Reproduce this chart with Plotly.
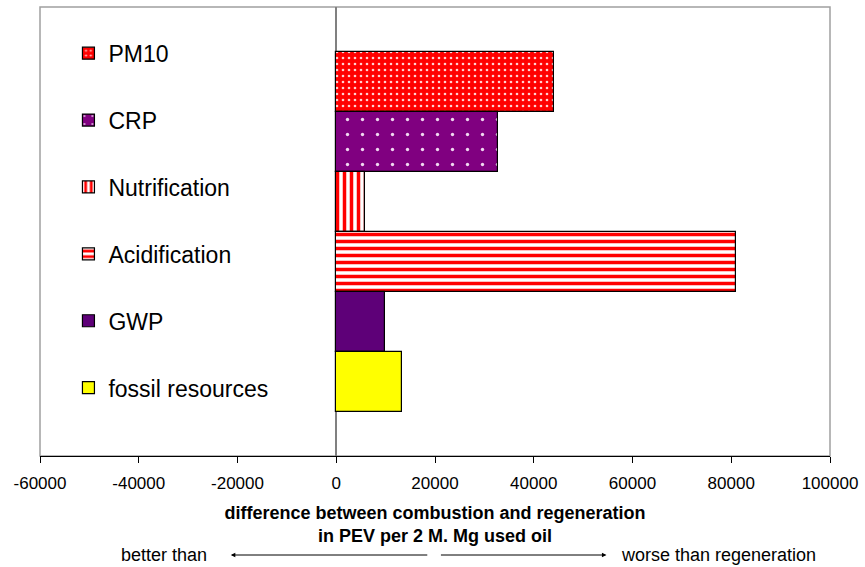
import plotly.graph_objects as go

# ---- data (top to bottom as shown) ----
categories = ["PM10", "CRP", "Nutrification", "Acidification", "GWP", "fossil resources"]
values = [44200, 32800, 5800, 80900, 9900, 13300]
tick_values = [-60000, -40000, -20000, 0, 20000, 40000, 60000, 80000, 100000]
tick_labels = ["-60000", "-40000", "-20000", "0", "20000", "40000", "60000", "80000", "100000"]

styles = {
    "fossil resources": dict(color="#FFFF00", pattern=dict(shape="")),
    "GWP": dict(color="#5E0078", pattern=dict(shape="")),
    "Acidification": dict(color="#FF0000", pattern=dict(shape="-", fillmode="replace", bgcolor="white",
                                                         fgcolor="#FF0000", size=7, solidity=0.5)),
    "Nutrification": dict(color="#FF0000", pattern=dict(shape="|", fillmode="replace", bgcolor="white",
                                                         fgcolor="#FF0000", size=7, solidity=0.5)),
    "CRP": dict(color="#800080", pattern=dict(shape=".", fillmode="replace", bgcolor="#800080",
                                               fgcolor="#F0D8F0", size=15, solidity=0.04)),
    "PM10": dict(color="#FF0000", pattern=dict(shape=".", fillmode="replace", bgcolor="#FF0000",
                                                fgcolor="#FFD0D0", size=6, solidity=0.15)),
}

fig = go.Figure()
for cat, val in zip(categories, values):
    st = styles[cat]
    fig.add_trace(go.Bar(
        y=[cat], x=[val], orientation="h", name=cat, width=1.0,
        legendgroup=cat,
        marker=dict(color=st["color"], pattern=st["pattern"], line=dict(color="black", width=1.2)),
    ))

fig.update_layout(
    width=865, height=567,
    margin=dict(l=40, r=30, t=7, b=111),
    paper_bgcolor="white", plot_bgcolor="white",
    barmode="overlay", bargap=0,
    font=dict(family="Liberation Sans, Arial, sans-serif", color="black"),
    showlegend=True,
    legend=dict(x=0.036, y=0.945, xanchor="left", yanchor="top",
                font=dict(size=23), traceorder="grouped",
                tracegroupgap=34, bgcolor="rgba(0,0,0,0)", itemwidth=30),
    shapes=[dict(type="rect", xref="paper", yref="paper", x0=0, y0=0, x1=1, y1=1,
                 line=dict(color="#A0A0A0", width=1.5), layer="below")],
)

fig.update_xaxes(
    range=[-60000, 100000], tickvals=tick_values, ticktext=tick_labels,
    showline=True, linecolor="black", linewidth=1.2, ticks="outside", ticklen=6,
    tickcolor="black", showgrid=False, zeroline=True, zerolinecolor="#808080",
    zerolinewidth=1.5, tickfont=dict(size=17), ticklabelstandoff=5,
    title=dict(text="<b>difference between combustion and regeneration<br>in PEV per 2 M. Mg used oil</b>",
               font=dict(size=18), standoff=14),
)
fig.update_yaxes(
    categoryorder="array", categoryarray=categories[::-1],
    range=[-1.233, 6.25], showticklabels=False, showgrid=False, zeroline=False,
    showline=False, ticks="",
)

# bottom explanation arrows
row_y = -0.2205
fig.add_annotation(xref="paper", yref="paper", x=0.157, y=row_y, text="better than",
                   showarrow=False, xanchor="center", yanchor="middle", font=dict(size=18))
fig.add_annotation(xref="paper", yref="paper", x=0.733, y=row_y, text="worse than regeneration",
                   showarrow=False, xanchor="left", yanchor="middle", font=dict(size=18))
fig.add_annotation(xref="paper", yref="paper", x=0.2415, y=row_y, ax=198, ay=0,
                   axref="pixel", ayref="pixel", text="", showarrow=True,
                   arrowhead=2, arrowsize=0.9, arrowwidth=1, arrowcolor="black")
fig.add_annotation(xref="paper", yref="paper", x=0.717, y=row_y, ax=-167, ay=0,
                   axref="pixel", ayref="pixel", text="", showarrow=True,
                   arrowhead=2, arrowsize=0.9, arrowwidth=1, arrowcolor="black")

fig.write_html("out.html", config={"displayModeBar": False},
               post_script="document.body.style.margin='0px';")
